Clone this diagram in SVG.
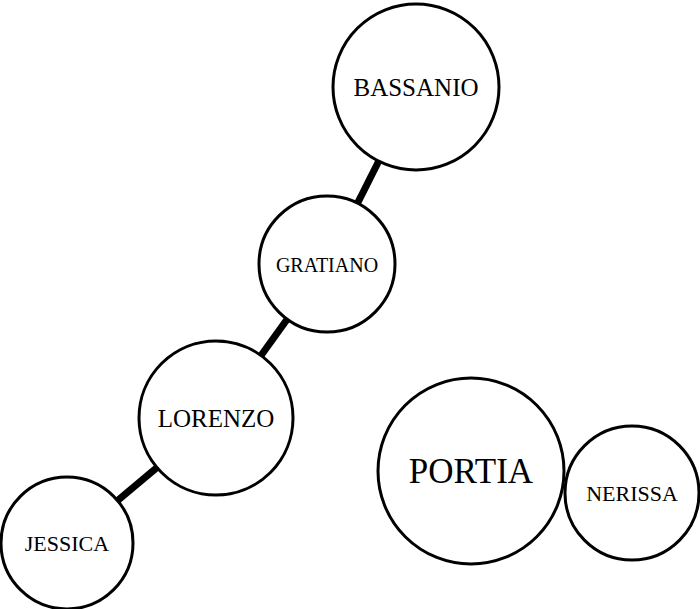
<svg xmlns="http://www.w3.org/2000/svg" width="700" height="609" viewBox="0 0 700 609">
<style>
.node circle { fill: #fff; stroke: #000; stroke-width: 3; }
.node text { font-family: "Liberation Serif", "Times New Roman", serif; fill: #000; text-anchor: middle; }
.edges line { stroke: #000; stroke-width: 7; }
</style>
<rect width="700" height="609" fill="#fff"/>
<g id="edges" class="edges">
<line x1="416" y1="87" x2="327" y2="264"/>
<line x1="327" y1="264" x2="216" y2="418"/>
<line x1="216" y1="418" x2="67" y2="543"/>
</g>
<g id="BASSANIO" class="node"><circle cx="416" cy="87" r="83"/><text x="416" y="96" font-size="25">BASSANIO</text></g>
<g id="GRATIANO" class="node"><circle cx="327" cy="264" r="68"/><text x="327" y="272" font-size="20">GRATIANO</text></g>
<g id="LORENZO" class="node"><circle cx="216" cy="418" r="77"/><text x="216" y="427" font-size="25">LORENZO</text></g>
<g id="JESSICA" class="node"><circle cx="67" cy="543" r="66"/><text x="67" y="551" font-size="22">JESSICA</text></g>
<g id="PORTIA" class="node"><circle cx="471" cy="471" r="93"/><text x="471" y="483" font-size="35">PORTIA</text></g>
<g id="NERISSA" class="node"><circle cx="632" cy="493" r="67"/><text x="632" y="501" font-size="22">NERISSA</text></g>
</svg>
